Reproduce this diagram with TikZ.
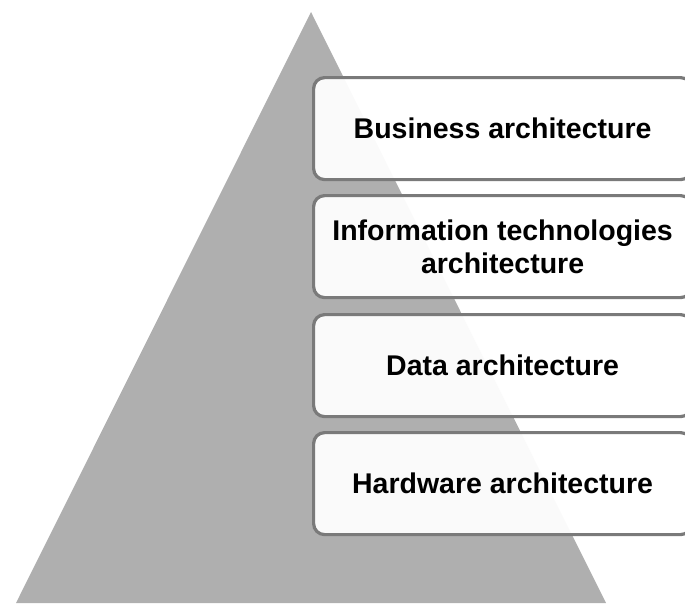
\documentclass[tikz,border=0pt]{standalone}
\usepackage{fontspec}
\setmainfont{Liberation Sans}
\begin{document}
\begin{tikzpicture}[x=1pt,y=-1pt,
  layerbox/.style={draw=black!52,line width=3.2pt,rounded corners=11pt,fill=white,fill opacity=0.95,text opacity=1,
    minimum width=378pt,minimum height=102pt,anchor=north west,inner sep=0pt,
    font=\fontsize{28.5}{33}\selectfont\bfseries,align=center,text=black}]
\useasboundingbox (0,0) rectangle (685,603);
\begin{scope}
\clip (0,0) rectangle (685,603);
\fill[fill={rgb,255:red,175;green,175;blue,175}] (311,12) coordinate (apex) -- (16,603) coordinate (bl) -- (606,603) coordinate (br) -- cycle;
\node[layerbox] (b1) at (312,76) {Business architecture};
\node[layerbox] (b2) at (312,194) {Information technologies\\architecture};
\node[layerbox] (b3) at (312,313) {Data architecture};
\node[layerbox] (b4) at (312,431) {Hardware architecture};
\end{scope}
\end{tikzpicture}
\end{document}
